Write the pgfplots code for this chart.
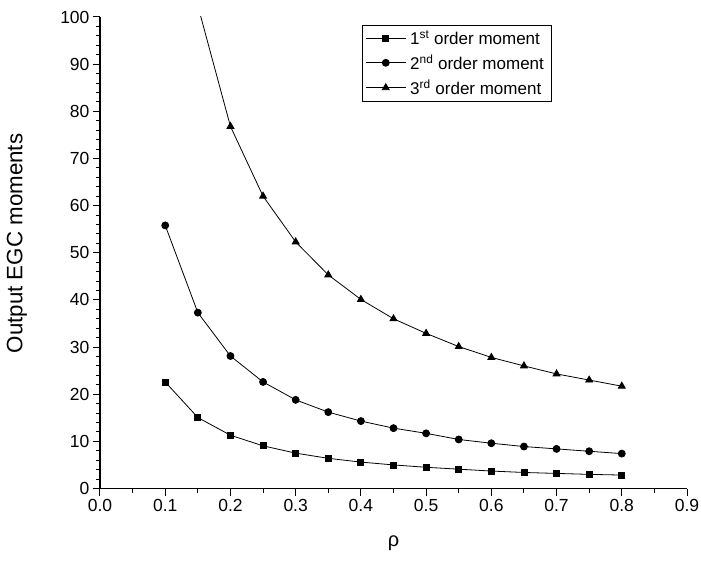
\documentclass[border=0pt]{standalone}
\usepackage{fontspec}
\setmainfont{Liberation Sans}
\usepackage{pgfplots}
\pgfplotsset{compat=1.18}

\begin{document}
\begin{tikzpicture}
\begin{axis}[
    width=587pt, height=471.5pt, scale only axis,
    xmin=0, xmax=0.9, ymin=0, ymax=100,
    axis lines*=left,
    axis line style={line width=1.1pt},
    tick align=outside,
    tick style={black, line width=1pt},
    major tick length=7pt, minor tick length=4pt,
    xtick={0,0.1,...,0.9}, minor x tick num=1,
    ytick={0,10,...,100}, minor y tick num=4,
    xticklabel style={/pgf/number format/.cd, fixed, fixed zerofill, precision=1},
    /pgf/number format/assume math mode=true,
    tick label style={font=\fontsize{17.5}{19}\selectfont},
    xlabel={ρ}, ylabel={Output EGC moments},
    xlabel style={font=\fontsize{20}{22}\selectfont, at={(axis description cs:0.5,-0.1156)}, anchor=center},
    ylabel style={font=\fontsize{22.3}{24}\selectfont, at={(axis description cs:-0.1414,0.5196)}, anchor=center},
    legend style={at={(axis description cs:0.4463,0.9825)}, anchor=north west,
        draw=black, line width=0.8pt, font=\fontsize{17}{19}\selectfont,
        inner xsep=3pt, inner ysep=3pt, row sep=4.5pt,
        nodes={inner xsep=4pt}},
    legend cell align=left,
    legend image code/.code={\draw[mark repeat=2, mark phase=2, #1] plot coordinates {(0pt,0pt) (20pt,0pt) (40pt,0pt)};},
    every axis plot/.append style={black, line width=0.8pt},
]
\addplot[mark=square*, mark size=3pt] coordinates {
(0.10,22.6) (0.15,15.05) (0.20,11.3) (0.25,9.05) (0.30,7.5) (0.35,6.4)
(0.40,5.6) (0.45,5.0) (0.50,4.5) (0.55,4.1) (0.60,3.7) (0.65,3.4)
(0.70,3.2) (0.75,3.0) (0.80,2.85)};
\addplot[mark=*, mark size=3.5pt] coordinates {
(0.10,55.8) (0.15,37.3) (0.20,28.1) (0.25,22.6) (0.30,18.8) (0.35,16.2)
(0.40,14.3) (0.45,12.8) (0.50,11.7) (0.55,10.4) (0.60,9.6) (0.65,8.9)
(0.70,8.4) (0.75,7.9) (0.80,7.4)};
\addplot[mark=triangle*, mark size=4pt] coordinates {
(0.10,153.6) (0.15,102.4) (0.20,76.8) (0.25,62.0) (0.30,52.3) (0.35,45.3)
(0.40,40.1) (0.45,36.0) (0.50,32.9) (0.55,30.1) (0.60,27.8) (0.65,26.0)
(0.70,24.3) (0.75,23.0) (0.80,21.7)};
\legend{1\textsuperscript{st} order moment, 2\textsuperscript{nd} order moment, 3\textsuperscript{rd} order moment}
\end{axis}
\pgfresetboundingbox
\path (-100pt,-71.5pt) rectangle (601pt,488.5pt);
\end{tikzpicture}
\end{document}
